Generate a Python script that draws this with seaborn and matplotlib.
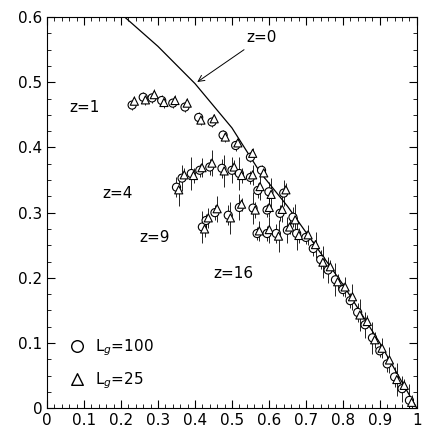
import numpy as np
import pandas as pd
import matplotlib
matplotlib.use("Agg")
import matplotlib.pyplot as plt
import matplotlib.ticker as mticker
import seaborn as sns

sns.set_style("ticks")
plt.rcParams["font.family"] = ["DejaVu Sans"]
plt.rcParams["text.color"] = "black"
plt.rcParams["xtick.color"] = "black"
plt.rcParams["ytick.color"] = "black"

# ── Data ────────────────────────────────────────────────────
line_x = [0.21, 0.30, 0.40, 0.50, 0.576, 0.65, 0.70, 0.80, 0.90, 1.00]
line_y = [0.60, 0.555, 0.498, 0.43, 0.362, 0.31, 0.27, 0.19, 0.10, 0.0]

z1_x = [0.23, 0.26, 0.284, 0.31, 0.34, 0.373, 0.41, 0.446, 0.476, 0.51, 0.55, 0.58]
z1_y = [0.465, 0.477, 0.476, 0.472, 0.468, 0.462, 0.446, 0.439, 0.419, 0.403, 0.385, 0.365]
z4_x = [0.35, 0.365, 0.39, 0.413, 0.44, 0.473, 0.50, 0.52, 0.55, 0.57, 0.60, 0.64]
z4_y = [0.339, 0.353, 0.36, 0.365, 0.37, 0.368, 0.365, 0.36, 0.354, 0.334, 0.332, 0.33]
z9_x = [0.42, 0.43, 0.454, 0.49, 0.52, 0.557, 0.595, 0.63, 0.665]
z9_y = [0.278, 0.288, 0.30, 0.296, 0.308, 0.307, 0.304, 0.299, 0.293]
z16_x = [0.568, 0.595, 0.62, 0.65, 0.675]
z16_y = [0.268, 0.268, 0.268, 0.273, 0.268]
tail_x = [0.70, 0.72, 0.74, 0.76, 0.78, 0.80, 0.82, 0.84, 0.86, 0.88, 0.90, 0.92, 0.94, 0.96, 0.98]
tail_y = [0.262, 0.245, 0.228, 0.212, 0.197, 0.182, 0.165, 0.147, 0.128, 0.108, 0.088, 0.068, 0.048, 0.030, 0.012]

# triangles (L_g=25) sit slightly off the circles (L_g=100)
tri_dx = 0.006
tri_dy = [0.006, -0.004, 0.005, -0.003, 0.004]
err = [0.012, 0.015, 0.02, 0.025, 0.01]

groups = [(z1_x, z1_y, 0), (z4_x, z4_y, 1), (z9_x, z9_y, 3), (z16_x, z16_y, 4), (tail_x, tail_y, 4)]

fig = plt.figure(figsize=(4.36, 4.38), dpi=100)
ax = fig.add_axes([0.108, 0.068, 0.848, 0.893])

ax.plot(line_x, line_y, color="black", lw=0.9)

rows = []
for gx, gy, k in groups:
    for i, (x, y) in enumerate(zip(gx, gy)):
        rows.append({"x": x, "y": y, "L": "100", "e": err[(i + k) % 5] if k else 0.008})
        rows.append({"x": x + tri_dx, "y": y + tri_dy[(i + k) % 5], "L": "25",
                     "e": err[(i + k + 2) % 5] if k else 0.008})
df = pd.DataFrame(rows)

ax.errorbar(df["x"], df["y"], yerr=df["e"], fmt="none", ecolor="black", elinewidth=0.6)
sns.scatterplot(data=df, x="x", y="y", style="L", markers={"100": "o", "25": "^"},
                style_order=["100", "25"], facecolor="white", edgecolor="black",
                linewidth=0.8, s=34, ax=ax, legend=False, zorder=3)

ax.annotate("z=0", xy=(0.40, 0.498), xytext=(0.54, 0.562), fontsize=11,
            arrowprops=dict(arrowstyle="->", color="black", lw=0.7))
ax.text(0.06, 0.455, "z=1", fontsize=11)
ax.text(0.15, 0.322, "z=4", fontsize=11)
ax.text(0.25, 0.255, "z=9", fontsize=11)
ax.text(0.45, 0.2, "z=16", fontsize=11)

ax.scatter([0.08], [0.095], marker="o", s=70, facecolor="white", edgecolor="black")
ax.text(0.13, 0.087, "L$_g$=100", fontsize=11)
ax.scatter([0.08], [0.045], marker="^", s=70, facecolor="white", edgecolor="black")
ax.text(0.13, 0.037, "L$_g$=25", fontsize=11)

ax.set_xlim(0, 1)
ax.set_ylim(0, 0.6)
ax.set_xlabel("")
ax.set_ylabel("")
ax.xaxis.set_major_locator(mticker.MultipleLocator(0.1))
ax.xaxis.set_minor_locator(mticker.MultipleLocator(0.02))
ax.yaxis.set_major_locator(mticker.MultipleLocator(0.1))
ax.yaxis.set_minor_locator(mticker.MultipleLocator(0.025))
ax.xaxis.set_major_formatter(mticker.FuncFormatter(lambda v, _: "0" if v == 0 else ("1" if v == 1 else f"{v:.1f}")))
ax.yaxis.set_major_formatter(mticker.FuncFormatter(lambda v, _: "0" if v == 0 else f"{v:.1f}"))
ax.tick_params(which="both", direction="in", top=True, right=True, labelsize=11)
ax.tick_params(which="major", length=6)
ax.tick_params(which="minor", length=3)
for s in ax.spines.values():
    s.set_linewidth(0.8)
    s.set_color("black")

fig.savefig("out.png", dpi=100)
